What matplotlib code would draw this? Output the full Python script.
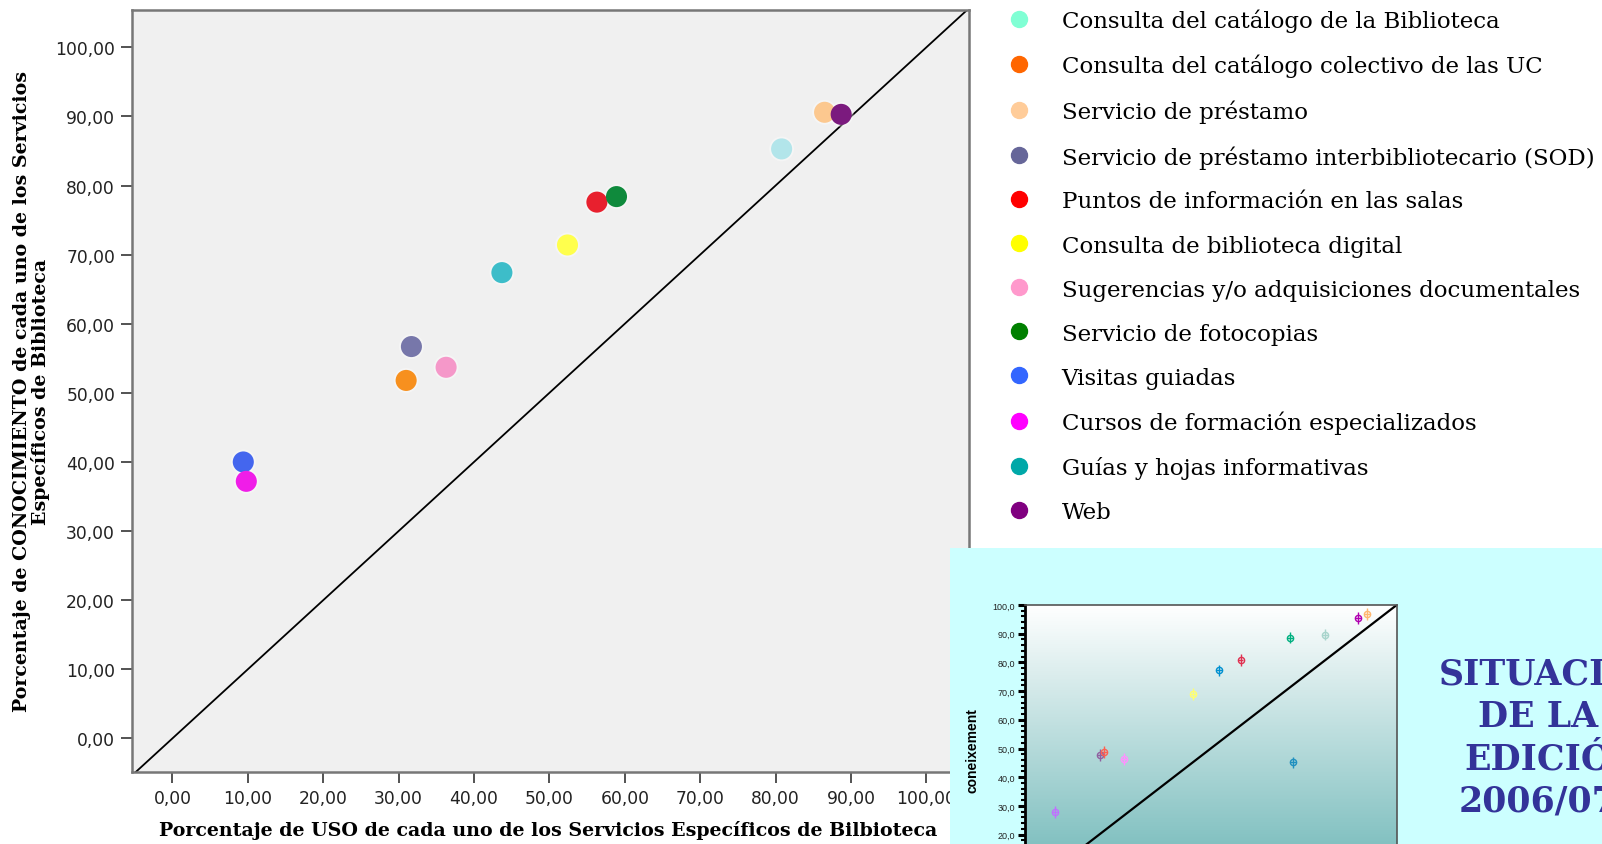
import matplotlib
matplotlib.use('Agg')
import matplotlib.pyplot as plt
from matplotlib.lines import Line2D
from matplotlib.patches import Rectangle
from matplotlib.ticker import MultipleLocator, FuncFormatter
import numpy as np

# --- main chart: % USO (x) vs % CONOCIMIENTO (y) per servicio ---
services = [
    "Consulta del catálogo de la Biblioteca",
    "Consulta del catálogo colectivo de las UC",
    "Servicio de préstamo",
    "Servicio de préstamo interbibliotecario (SOD)",
    "Puntos de información en las salas",
    "Consulta de biblioteca digital",
    "Sugerencias y/o adquisiciones documentales",
    "Servicio de fotocopias",
    "Visitas guiadas",
    "Cursos de formación especializados",
    "Guías y hojas informativas",
    "Web",
]
uso = [80.8, 31.0, 86.5, 31.7, 56.3, 52.4, 36.3, 58.9, 9.4, 9.8, 43.7, 88.7]
conocimiento = [85.3, 51.8, 90.6, 56.7, 77.6, 71.4, 53.7, 78.4, 40.0, 37.2, 67.4, 90.3]
point_colors = ["#b2e5ea", "#f7901e", "#fcc88f", "#7777aa", "#e8202e", "#ffff4d",
                "#f598c9", "#0f8a3c", "#4466ee", "#f01de8", "#3dbdc9", "#7b1a7e"]
legend_colors = ["#80ffd4", "#ff6600", "#ffcc99", "#666699", "#ff0000", "#ffff00",
                 "#ff99cc", "#008000", "#3366ff", "#ff00ff", "#00a8a8", "#800080"]

# --- small chart pasted from the 2006/07 slide ---
ins_x = [89.6, 92.0, 80.8, 71.4, 58.0, 52.2, 45.1, 20.1, 21.2, 26.6, 72.0, 8.0]
ins_y = [95.4, 96.8, 89.7, 88.6, 80.8, 77.2, 69.0, 47.7, 48.8, 46.3, 45.2, 27.8]
ins_colors = ["#b000b0", "#ffb870", "#a8d4cc", "#00b080", "#e03050", "#0090d0",
              "#ffff70", "#9060a0", "#ff6050", "#ff90ff", "#2090c0", "#c070ff"]

W, H = 1602, 845
fig = plt.figure(figsize=(W / 100, H / 100), dpi=100)
fig.patch.set_facecolor("white")

def fx(px):
    return px / W

def fy(py):
    return (H - py) / H

ax = fig.add_axes([fx(131.7), fy(773), fx(968.6) - fx(131.7), fy(11) - fy(773)])
ax.set_zorder(0)
ax.set_facecolor("#f0f0f0")
ax.set_xlim(-5.4, 105.6)
ax.set_ylim(-4.86, 105.4)

ax.axline((0, 0), (1, 1), color="black", lw=1.3, zorder=2)
ax.scatter(uso, conocimiento, s=320, c="white", alpha=0.35, edgecolors="none", zorder=3)
ax.scatter(uso, conocimiento, s=230, c=point_colors, edgecolors="none", zorder=4)

comma2 = FuncFormatter(lambda v, p: f"{v:.2f}".replace(".", ","))
ax.xaxis.set_major_locator(MultipleLocator(10))
ax.yaxis.set_major_locator(MultipleLocator(10))
ax.xaxis.set_major_formatter(comma2)
ax.yaxis.set_major_formatter(comma2)
ax.tick_params(direction="out", length=8, width=1.3, color="#444444",
               labelsize=12.3, labelcolor="#222222", pad=4)
for sp in ax.spines.values():
    sp.set_color("#777777")
    sp.set_linewidth(1.8)

lab_font = dict(family="DejaVu Serif", weight="bold", size=13.7)
ax.set_xlabel("Porcentaje de USO de cada uno de los Servicios Específicos de Bilbioteca", **lab_font)
ax.xaxis.set_label_coords(0.497, -0.075)
ax.xaxis.label.set_va("center")
ax.set_ylabel("Porcentaje de CONOCIMIENTO de cada uno de los Servicios\nEspecíficos de Biblioteca",
              linespacing=1.0, **lab_font)
ax.yaxis.set_label_coords(-0.1203, 0.5)
ax.yaxis.label.set_va("center")

handles = [Line2D([], [], marker="o", ls="none", ms=11.5, mfc=c, mec=c) for c in legend_colors]
fig.legend(handles, services, loc="upper left", bbox_to_anchor=(fx(1005), fy(9.5)),
           frameon=False, borderpad=0, borderaxespad=0, handlelength=1.2,
           handletextpad=1.27, labelspacing=0.96,
           prop=dict(family="DejaVu Serif", size=16.5))

# cyan slide pasted over the bottom-right corner
panel = Rectangle((fx(950), 0), 1 - fx(950), fy(549), transform=fig.transFigure,
                  facecolor="#ccffff", edgecolor="none", zorder=1)
fig.add_artist(panel)

ins = fig.add_axes([fx(1024.8), fy(893), fx(1396.7) - fx(1024.8), fy(606) - fy(893)])
ins.set_zorder(2)
ins.set_xlim(0, 100)
ins.set_ylim(0, 100)
grad = np.linspace(0, 1, 256).reshape(-1, 1)
top = np.array([1.0, 1.0, 1.0])
bot = np.array([106, 181, 181]) / 255
img = bot + (top - bot) * grad[..., None]
ins.imshow(img, extent=[0, 1, 0, 1], transform=ins.transAxes, origin="lower",
           aspect="auto", zorder=0)
ins.plot([0, 100], [0, 100], color="black", lw=1.6, zorder=2)
for xv, yv, c in zip(ins_x, ins_y, ins_colors):
    ins.errorbar(xv, yv, yerr=2.0, xerr=0.8, fmt="o", ms=4.5, mfc="none", mec=c,
                 ecolor=c, elinewidth=1, mew=1, capsize=0, zorder=3)

ins.yaxis.set_major_locator(MultipleLocator(10))
ins.yaxis.set_minor_locator(MultipleLocator(2))
ins.yaxis.set_major_formatter(FuncFormatter(lambda v, p: f"{v:.1f}".replace(".", ",")))
ins.tick_params(axis="y", which="major", direction="out", length=5, width=2.2, color="black",
                labelsize=6.5, labelcolor="#222222", pad=2, labelfontfamily="Liberation Sans")
ins.tick_params(axis="y", which="minor", direction="out", length=3, width=1.5, color="black")
ins.set_xticks([])
for sp in ins.spines.values():
    sp.set_color("#555555")
    sp.set_linewidth(1.2)
ins.spines["left"].set_color("black")
ins.spines["left"].set_linewidth(2)

fig.text(fx(972), fy(751), "coneixement", rotation=90, ha="center", va="center",
         family="Liberation Sans", weight="bold", size=10, color="black", zorder=3)

fig.text(fx(1538), fy(738), "SITUACIÓ\nDE LA\nEDICIÓ\n2006/07", ha="center", va="center",
         family="DejaVu Serif", weight="bold", size=25, linespacing=1.3,
         color="#333399", zorder=3)

fig.savefig("out.png", dpi=100)
